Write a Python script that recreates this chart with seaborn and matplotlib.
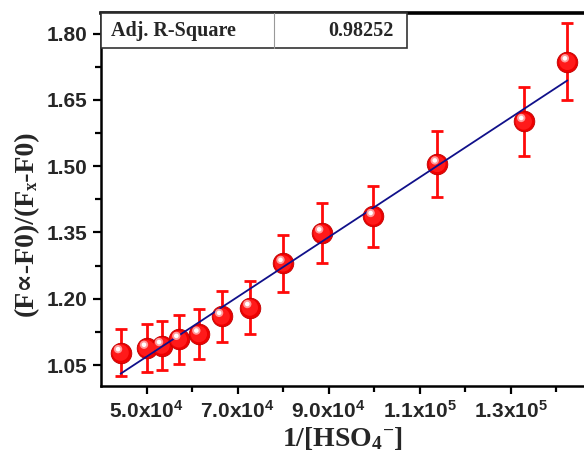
import numpy as np
import pandas as pd
import matplotlib
matplotlib.use("Agg")
import matplotlib.pyplot as plt
import matplotlib.transforms as mtransforms
from matplotlib.patches import Rectangle
from matplotlib.lines import Line2D
from matplotlib.ticker import FixedLocator
import seaborn as sns

# 1/[HSO4-] values and the fluorescence ratio with its error
inv_conc = [44300, 50000, 53300, 57100, 61500, 66500, 72700,
            80000, 88500, 99800, 113900, 132900, 142500]
ratio = [1.078, 1.088, 1.094, 1.108, 1.120, 1.160, 1.180,
         1.280, 1.349, 1.386, 1.505, 1.601, 1.736]
ratio_err = [0.054, 0.054, 0.055, 0.055, 0.056, 0.058, 0.059,
             0.064, 0.068, 0.069, 0.075, 0.079, 0.087]

x_ticks = [5.0e4, 7.0e4, 9.0e4, 1.1e5, 1.3e5]
x_tick_labels = [r"$\mathsf{5.0x10^{4}}$", r"$\mathsf{7.0x10^{4}}$", r"$\mathsf{9.0x10^{4}}$",
                 r"$\mathsf{1.1x10^{5}}$", r"$\mathsf{1.3x10^{5}}$"]
x_minor = [6.0e4, 8.0e4, 1.0e5, 1.2e5, 1.4e5]
y_ticks = [1.05, 1.20, 1.35, 1.50, 1.65, 1.80]
y_tick_labels = ["1.05", "1.20", "1.35", "1.50", "1.65", "1.80"]
y_minor = [1.125, 1.275, 1.425, 1.575, 1.725]

fit_label = "Adj. R-Square"
fit_value = "0.98252"

df = pd.DataFrame({"x": inv_conc, "y": ratio, "err": ratio_err})

sns.set_theme(style="ticks")
plt.rcParams["font.family"] = ["Liberation Sans", "DejaVu Sans"]
plt.rcParams["mathtext.fontset"] = "custom"
plt.rcParams["mathtext.rm"] = "Liberation Serif:bold"
plt.rcParams["mathtext.it"] = "Liberation Serif:bold"
plt.rcParams["mathtext.bf"] = "Liberation Serif:bold"
plt.rcParams["mathtext.sf"] = "Liberation Sans:bold"

fig = plt.figure(figsize=(5.84, 4.57), dpi=100)
ax = fig.add_axes([101 / 584, (457 - 386) / 457, 483 / 584, 373 / 457])

# error bars
ax.errorbar(df["x"], df["y"], yerr=df["err"], fmt="none", ecolor="#ff0a0a",
            elinewidth=2.0, capsize=4.5, capthick=2.0, zorder=2)

# linear fit
sns.regplot(data=df, x="x", y="y", ax=ax, scatter=False, ci=None, truncate=True,
            line_kws=dict(color="#10108a", lw=1.3, zorder=5))

# spheres: body plus a shaded rim and a glossy highlight
sns.scatterplot(data=df, x="x", y="y", ax=ax, s=220, color="#ee0000",
                edgecolor="#c00000", linewidth=0.6, zorder=3, legend=False)
sns.scatterplot(data=df, x="x", y="y", ax=ax, s=140, color="#ff1a1a",
                edgecolor="none", zorder=4, legend=False)
hl = ax.transData + mtransforms.ScaledTranslation(-2.5 / 100, 3.5 / 100, fig.dpi_scale_trans)
ax.scatter(df["x"], df["y"], s=36, color="#ff9a9a", edgecolor="none", zorder=6, transform=hl)
ax.scatter(df["x"], df["y"], s=11, color="#ffffff", edgecolor="none", zorder=7, transform=hl)

ax.set_xlim(4.0e4, 1.4615e5)
ax.set_ylim(1.0025, 1.8464)

ax.xaxis.set_major_locator(FixedLocator(x_ticks))
ax.set_xticklabels(x_tick_labels)
ax.xaxis.set_minor_locator(FixedLocator(x_minor))
ax.yaxis.set_major_locator(FixedLocator(y_ticks))
ax.set_yticklabels(y_tick_labels)
ax.yaxis.set_minor_locator(FixedLocator(y_minor))

ax.tick_params(axis="both", which="major", direction="out", length=6, width=1.6,
               color="black", labelsize=15, pad=4)
ax.tick_params(axis="both", which="minor", direction="out", length=4, width=1.6,
               color="black")
for lab in ax.get_yticklabels():
    lab.set_fontweight("bold")

for side in ["left", "bottom"]:
    ax.spines[side].set_linewidth(1.8)
    ax.spines[side].set_color("black")
ax.spines["top"].set_linewidth(2.6)
ax.spines["top"].set_color("black")
ax.spines["right"].set_visible(False)

ax.set_xlabel(r"1/[HSO$_4$$^{\mathbf{-}}$]", fontsize=20, family="Liberation Serif",
              fontweight="bold", labelpad=2)
ax.set_ylabel("(F\u221d-F0)/(F\u2093-F0)", fontsize=20,
              family=["Liberation Serif", "DejaVu Serif"], fontweight="bold")
ax.yaxis.set_label_coords(-0.128, 0.436)

# fit statistics box
tb_right = (407 - 101) / 483
tb_div = (274 - 101) / 483
tb_bottom = 1 - 35.3 / 373
ax.add_patch(Rectangle((0, tb_bottom), tb_right, 1 - tb_bottom, transform=ax.transAxes,
                       facecolor="white", edgecolor="#333333", lw=1.2, zorder=8, clip_on=False))
ax.add_line(Line2D([tb_div, tb_div], [tb_bottom, 1], transform=ax.transAxes,
                   color="#999999", lw=0.8, zorder=9))
ax.text(0.02, (tb_bottom + 1) / 2, fit_label, transform=ax.transAxes, ha="left", va="center",
        fontsize=14.5, family="Liberation Serif", fontweight="bold", zorder=10)
ax.text(tb_right - 0.027, (tb_bottom + 1) / 2, fit_value, transform=ax.transAxes, ha="right",
        va="center", fontsize=14.5, family="Liberation Serif", fontweight="bold", zorder=10)

fig.savefig("out.png", dpi=100)
